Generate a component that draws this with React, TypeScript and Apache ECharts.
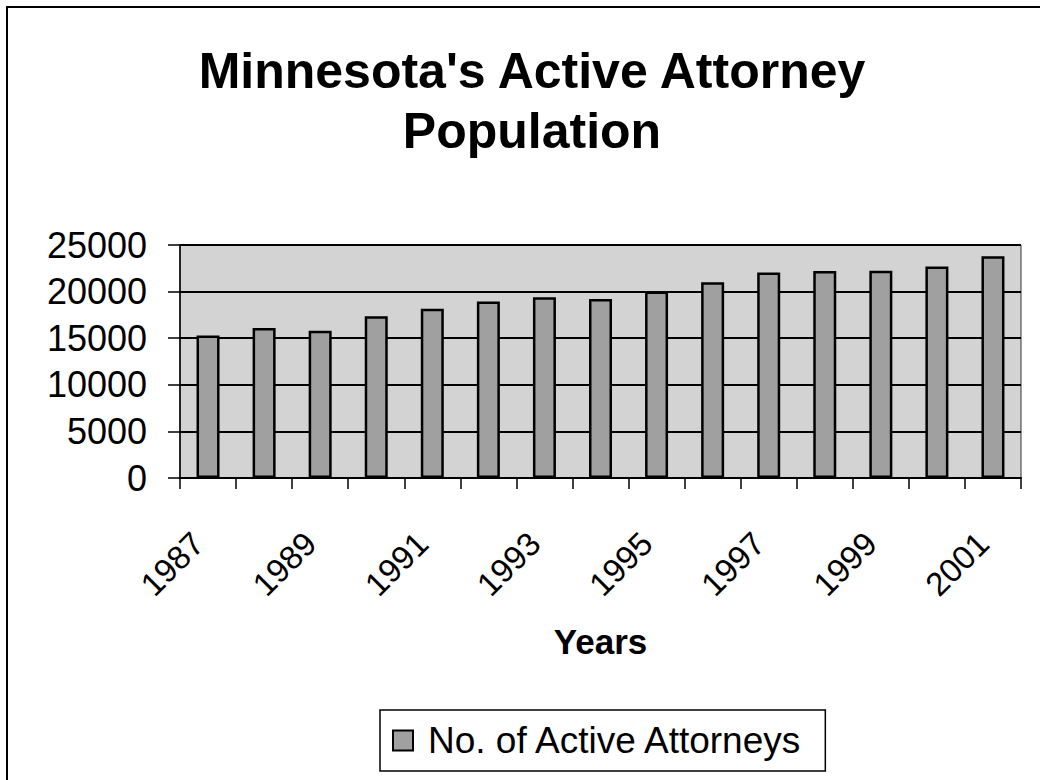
import React, { useEffect, useRef } from "react";
import * as echarts from "echarts";

const years = ["1987","1988","1989","1990","1991","1992","1993","1994","1995","1996","1997","1998","1999","2000","2001"];
const attorneys = [15300, 16100, 15800, 17350, 18150, 18950, 19400, 19200, 20000, 21000, 22050, 22200, 22250, 22700, 23800];
const titleText = "Minnesota's Active Attorney\nPopulation";
const seriesName = "No. of Active Attorneys";
const xAxisName = "Years";

const FONT = "'Liberation Sans', Arial, sans-serif";

export default function App() {
  const ref = useRef<HTMLDivElement>(null);
  useEffect(() => {
    if (!ref.current) return;
    const chart = echarts.init(ref.current, undefined, { renderer: "svg" });
    chart.setOption({
      animation: false,
      backgroundColor: "#ffffff",
      textStyle: { fontFamily: FONT },
      title: {
        text: titleText,
        left: 527,
        top: 36,
        textAlign: "center",
        textStyle: { fontFamily: FONT, fontSize: 50, fontWeight: "bold", color: "#000", lineHeight: 60 },
      },
      grid: {
        left: 180,
        right: 19,
        top: 245,
        bottom: 302,
        show: true,
        backgroundColor: "#d3d3d3",
        borderColor: "#333",
        borderWidth: 1,
      },
      legend: {
        left: 380,
        top: 710,
        padding: [12, 21, 12, 12],
        borderColor: "#000",
        borderWidth: 1.5,
        icon: "rect",
        itemWidth: 20,
        itemHeight: 20,
        textStyle: { fontFamily: FONT, fontSize: 37, color: "#000", padding: [0, 0, 0, 10] },
        data: [seriesName],
      },
      xAxis: {
        type: "category",
        data: years,
        boundaryGap: true,
        name: xAxisName,
        nameLocation: "middle",
        nameGap: 146,
        nameTextStyle: { fontFamily: FONT, fontSize: 35, fontWeight: "bold", color: "#000" },
        axisLine: { lineStyle: { color: "#000", width: 2 } },
        axisTick: { show: true, interval: 0, length: 11, lineStyle: { color: "#000", width: 1.5 } },
        axisLabel: { interval: 1, rotate: 45, margin: 50, padding: [0, 14, 0, 0], fontFamily: FONT, fontSize: 33, color: "#000" },
        splitLine: { show: false },
      },
      yAxis: {
        type: "value",
        min: 0,
        max: 25000,
        interval: 5000,
        axisLine: { show: true, lineStyle: { color: "#000", width: 1.5 } },
        axisTick: { show: true, length: 12, lineStyle: { color: "#000", width: 1.5 } },
        axisLabel: {
          margin: 33,
          fontFamily: FONT,
          fontSize: 36,
          color: "#000",
          formatter: (v: number) => String(v),
        },
        splitLine: { show: true, lineStyle: { color: "#000", width: 2 } },
      },
      series: [
        {
          name: seriesName,
          type: "bar",
          data: attorneys,
          barWidth: 23,
          itemStyle: { color: "#a0a0a0", borderColor: "#000", borderWidth: 2.5 },
        },
      ],
      graphic: [
        {
          type: "rect",
          shape: { x: 7, y: 7, width: 1060, height: 800 },
          style: { fill: "none", stroke: "#000", lineWidth: 2 },
          silent: true,
        },
      ],
    });
    return () => chart.dispose();
  }, []);
  return <div ref={ref} style={{ position: "absolute", left: 0, top: 0, width: 1040, height: 780 }} />;
}
